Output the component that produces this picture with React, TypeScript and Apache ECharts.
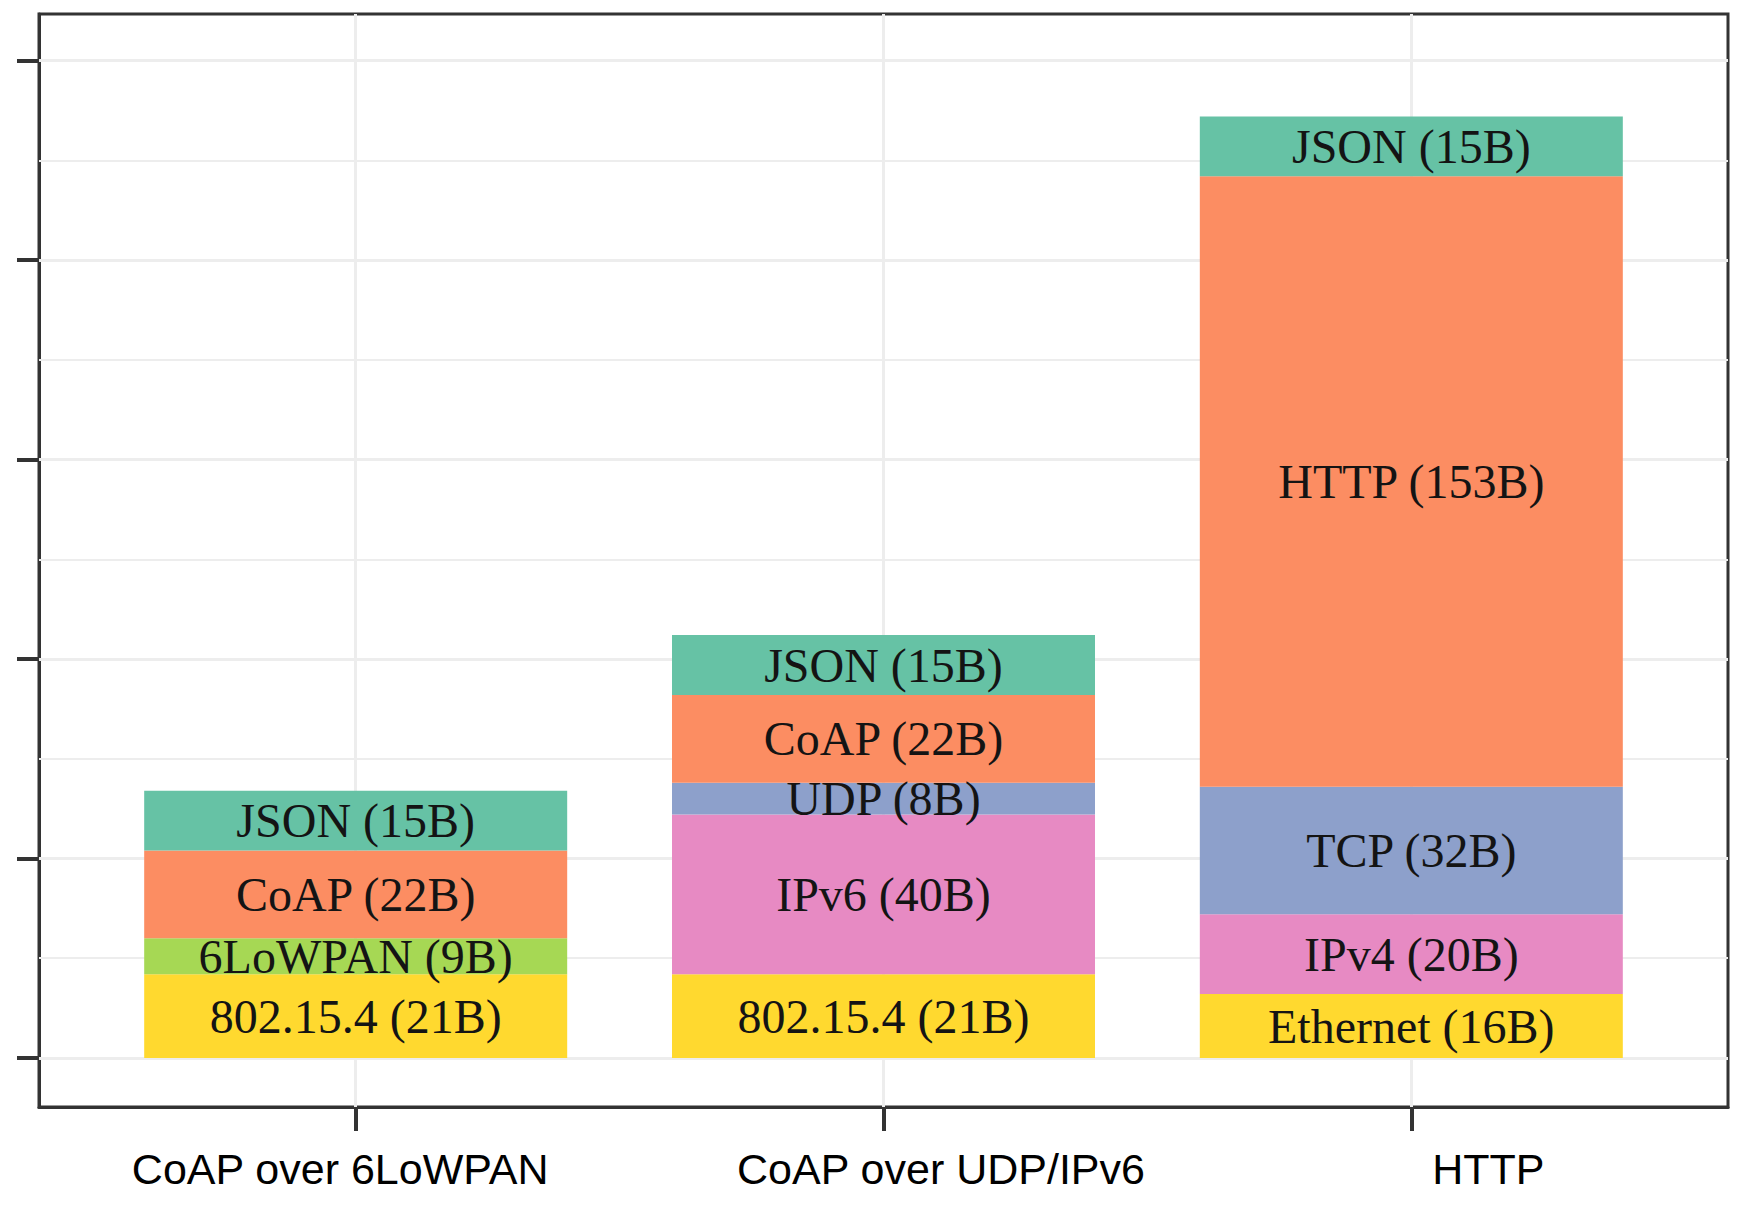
import React, { useEffect, useRef } from "react";
import * as echarts from "echarts";

const categories = ["CoAP over 6LoWPAN", "CoAP over UDP/IPv6", "HTTP"];

// stacked layers, bottom to top (bytes)
const linkValues = [21, 21, 16];
const linkNames = ["802.15.4", "802.15.4", "Ethernet"];
const adaptValues = [9, null, null];
const adaptNames = ["6LoWPAN", "", ""];
const networkValues = [null, 40, 20];
const networkNames = ["", "IPv6", "IPv4"];
const transportValues = [null, 8, 32];
const transportNames = ["", "UDP", "TCP"];
const appValues = [22, 22, 153];
const appNames = ["CoAP", "CoAP", "HTTP"];
const payloadValues = [15, 15, 15];
const payloadNames = ["JSON", "JSON", "JSON"];

const yTicks = [0, 50, 100, 150, 200, 250];
const yGrid = [0, 25, 50, 75, 100, 125, 150, 175, 200, 225, 250];
const xTicks = [0, 1, 2];

const layers = [
  { id: "link", values: linkValues, names: linkNames, color: "#FFD92F" },
  { id: "adapt", values: adaptValues, names: adaptNames, color: "#A6D854" },
  { id: "network", values: networkValues, names: networkNames, color: "#E78AC3" },
  { id: "transport", values: transportValues, names: transportNames, color: "#8DA0CB" },
  { id: "app", values: appValues, names: appNames, color: "#FC8D62" },
  { id: "payload", values: payloadValues, names: payloadNames, color: "#66C2A5" },
];

export default function App() {
  const ref = useRef<HTMLDivElement>(null);

  useEffect(() => {
    if (!ref.current) return;
    const chart = echarts.init(ref.current, null, { renderer: "svg" });

    // value first so that the stacked dimension is the y value
    const barSeries = layers.map((layer) => ({
      type: "bar",
      name: layer.id,
      stack: "total",
      barWidth: 423,
      z: 3,
      encode: { x: 1, y: 0 },
      data: layer.values.map((v, i) => [v == null ? 0 : v, i]),
      itemStyle: { color: layer.color },
      label: {
        show: true,
        position: "inside",
        fontFamily: "Liberation Serif",
        fontSize: 48,
        color: "#141414",
        formatter: (p: any) => {
          const v = layer.values[p.dataIndex];
          if (v == null) return "";
          return `${layer.names[p.dataIndex]} (${v}B)`;
        },
      },
    }));

    const gridLines = [
      ...yGrid.map((y) => ({
        yAxis: y,
        lineStyle: { color: "#ededed", width: y % 50 === 0 ? 3 : 2.2, type: "solid" },
      })),
      ...xTicks.map((x) => ({
        xAxis: x,
        lineStyle: { color: "#ededed", width: 3, type: "solid" },
      })),
    ];

    const labelShift = [
      [0, 31, 0, 0],
      [0, 0, 0, 115],
      [0, 0, 0, 154],
    ];
    const richBase = { fontFamily: "Liberation Sans", fontSize: 43, color: "#000" };

    chart.setOption({
      animation: false,
      backgroundColor: "#ffffff",
      grid: {
        left: 39,
        right: 17,
        top: 14,
        bottom: 106,
        show: true,
        borderColor: "#333333",
        borderWidth: 3,
        backgroundColor: "transparent",
        containLabel: false,
        outerBoundsMode: "none",
      },
      xAxis: {
        type: "value",
        min: -0.6,
        max: 2.6,
        splitLine: { show: false },
        axisLine: { show: true, onZero: false, lineStyle: { color: "#333333", width: 3 } },
        axisTick: {
          show: true,
          customValues: xTicks,
          length: 24,
          lineStyle: { color: "#333333", width: 4 },
        },
        axisLabel: {
          show: true,
          customValues: xTicks,
          margin: 40,
          fontFamily: "Liberation Sans",
          fontSize: 43,
          color: "#000",
          formatter: (v: number) => `{c${Math.round(v)}|${categories[Math.round(v)]}}`,
          rich: {
            c0: { ...richBase, padding: labelShift[0] },
            c1: { ...richBase, padding: labelShift[1] },
            c2: { ...richBase, padding: labelShift[2] },
          },
        },
      },
      yAxis: {
        type: "value",
        min: -12.3,
        max: 261.7,
        splitLine: { show: false },
        axisLine: { show: true, onZero: false, lineStyle: { color: "#333333", width: 3 } },
        axisTick: {
          show: true,
          customValues: yTicks,
          length: 22,
          lineStyle: { color: "#333333", width: 4 },
        },
        axisLabel: { show: false },
      },
      series: [
        {
          type: "line",
          name: "grid",
          data: [],
          z: 1,
          silent: true,
          markLine: {
            silent: true,
            z: 1,
            symbol: ["none", "none"],
            label: { show: false },
            data: gridLines,
          },
        },
        ...barSeries,
      ],
    });

    return () => chart.dispose();
  }, []);

  return (
    <div
      ref={ref}
      style={{ position: "fixed", left: 0, top: 0, width: 1745, height: 1213, background: "#fff" }}
    />
  );
}
